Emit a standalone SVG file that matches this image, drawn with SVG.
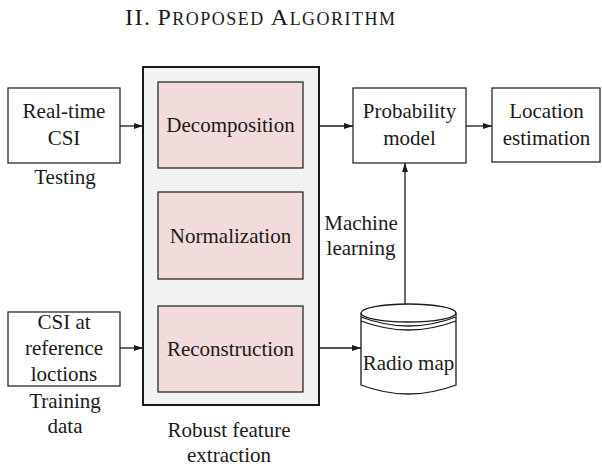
<svg xmlns="http://www.w3.org/2000/svg" width="602" height="473" viewBox="0 0 602 473">
  <style>
    .box { fill: #ffffff; stroke: #2a2a2a; stroke-width: 1.3; }
    .stage { fill: #f2dcdb; stroke: #2a2a2a; stroke-width: 1.3; }
    .frame { fill: #f2f2f2; stroke: #1a1a1a; stroke-width: 2; }
    .wire { fill: none; stroke: #1a1a1a; stroke-width: 1.3; }
    .db { fill: #ffffff; stroke: #1a1a1a; stroke-width: 1.3; }
  </style>
  <defs>
    <marker id="arrow" markerWidth="10" markerHeight="8" refX="9" refY="4" orient="auto" markerUnits="userSpaceOnUse">
      <path d="M0,1 L9,4 L0,7 Z" fill="#1a1a1a"/>
    </marker>
  </defs>

  <rect width="602" height="473" fill="#ffffff"/>

  <!-- section heading in small caps -->
  <text x="125" y="25" font-family="Liberation Serif, Times New Roman, serif" fill="#1a1a1a" textLength="270" lengthAdjust="spacing" font-size="24">II.<tspan dx="6">P</tspan><tspan font-size="18">ROPOSED</tspan> A<tspan font-size="18">LGORITHM</tspan></text>

  <g font-family="Liberation Serif, Times New Roman, serif" font-size="21" text-anchor="middle" fill="#1a1a1a">
  <g id="realtime-csi">
    <rect class="box" x="8" y="88" width="112" height="75"/>
    <text x="64" y="118">Real-time</text>
    <text x="64" y="145">CSI</text>
    <text x="65" y="184">Testing</text>
  </g>

  <g id="reference-csi">
    <rect class="box" x="8" y="312" width="112" height="74"/>
    <text x="64" y="329">CSI at</text>
    <text x="64" y="355">reference</text>
    <text x="64" y="381">loctions</text>
    <text x="65" y="408">Training</text>
    <text x="65" y="433">data</text>
  </g>

  <g id="feature-extraction">
    <rect class="frame" x="143" y="67" width="176" height="338"/>
    <text x="229" y="437">Robust feature</text>
    <text x="229" y="462">extraction</text>
  </g>

  <g id="decomposition">
    <rect class="stage" x="158" y="82" width="145" height="86"/>
    <text x="230.5" y="132">Decomposition</text>
  </g>

  <g id="normalization">
    <rect class="stage" x="158" y="192" width="145" height="87"/>
    <text x="230.5" y="243">Normalization</text>
  </g>

  <g id="reconstruction">
    <rect class="stage" x="158" y="306" width="145" height="86"/>
    <text x="230.5" y="356">Reconstruction</text>
  </g>

  <g id="probability-model">
    <rect class="box" x="353" y="88" width="113" height="75"/>
    <text x="409.5" y="118">Probability</text>
    <text x="409.5" y="145">model</text>
  </g>

  <g id="location-estimation">
    <rect class="box" x="492" y="88" width="108" height="74"/>
    <text x="546.5" y="118">Location</text>
    <text x="546.5" y="145">estimation</text>
  </g>

  <g id="radio-map">
    <path class="db" d="M361,313 L361,385 Q408.5,403 456,385 L456,313"/>
    <ellipse class="db" cx="408.5" cy="313" rx="47.5" ry="9"/>
    <path class="wire" d="M361,317 Q408.5,335 456,317"/>
    <path class="wire" d="M361,321 Q408.5,339 456,321"/>
    <text x="408.5" y="370">Radio map</text>
  </g>

  <g id="connectors">
    <line class="wire" x1="120" y1="126" x2="143" y2="126" marker-end="url(#arrow)"/>
    <line class="wire" x1="120" y1="348" x2="143" y2="348" marker-end="url(#arrow)"/>
    <line class="wire" x1="319" y1="126" x2="353" y2="126" marker-end="url(#arrow)"/>
    <line class="wire" x1="466" y1="126" x2="492" y2="126" marker-end="url(#arrow)"/>
    <line class="wire" x1="319" y1="348" x2="361" y2="348" marker-end="url(#arrow)"/>
    <line class="wire" x1="405" y1="304" x2="405" y2="163" marker-end="url(#arrow)"/>
    <text x="361" y="230">Machine</text>
    <text x="361" y="255">learning</text>
  </g>
  </g>
</svg>
